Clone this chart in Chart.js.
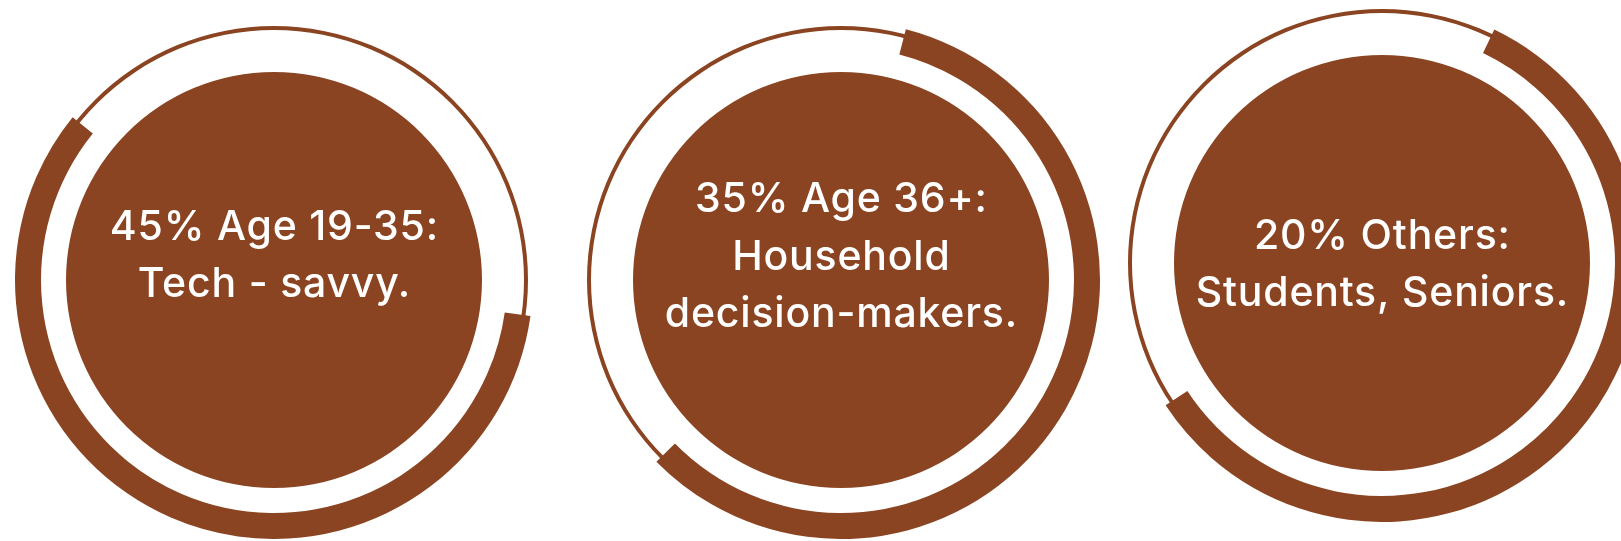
<!DOCTYPE html>
<html>
<head>
<meta charset="utf-8">
<script src="https://cdn.jsdelivr.net/npm/chart.js@4.4.1/dist/chart.umd.min.js"></script>
<style>
  html, body { margin: 0; padding: 0; background: #fff; }
  body { width: 1621px; height: 541px; overflow: hidden; position: relative; }
  .ring { position: absolute; width: 518px; height: 518px; }
  .ring canvas { position: absolute; left: 0; top: 0; }
</style>
</head>
<body>
<script>
// audience groups
const shares = [45, 35, 20];
const groupTitles = ['Age 19-35:', 'Age 36+:', 'Others:'];
const groupLines = [
  ['Tech - savvy.'],
  ['Household', 'decision-makers.'],
  ['Students, Seniors.']
];
// part of each outer ring drawn as the thick arc (same in all three)
const arcShare = [58.6, 58.6, 58.6];

const brown = '#8B4421';
const SIZE = 518;

// where each ring sits on the page
const layout = [
  { cx: 274, cy: 280, rotation: 98, textShift: -26 },
  { cx: 841, cy: 280, rotation: 14.5, textShift: -25 },
  { cx: 1382, cy: 263, rotation: 25.7, textShift: 0 }
];

const captionPlugin = {
  id: 'caption',
  afterDatasetsDraw(chart, args, opts) {
    const ctx = chart.ctx;
    const x = (chart.chartArea.left + chart.chartArea.right) / 2;
    const y = (chart.chartArea.top + chart.chartArea.bottom) / 2;
    const lines = opts.lines;
    const lh = 57.5;
    let base = y - (lines.length - 1) * lh / 2 + 14.5 + opts.shift;
    ctx.save();
    ctx.fillStyle = '#ffffff';
    ctx.font = '500 41px Inter';
    ctx.letterSpacing = '0.8px';
    ctx.textAlign = 'center';
    ctx.textBaseline = 'alphabetic';
    lines.forEach((t, i) => ctx.fillText(t, x + 0.4, base + i * lh));
    ctx.restore();
  }
};

function makeCanvas(wrap) {
  const c = document.createElement('canvas');
  c.width = SIZE;
  c.height = SIZE;
  c.style.width = SIZE + 'px';
  c.style.height = SIZE + 'px';
  wrap.appendChild(c);
  return c;
}

const baseOptions = {
  responsive: false,
  animation: false,
  events: [],
  plugins: { legend: { display: false }, tooltip: { enabled: false } },
  elements: { arc: { borderWidth: 0 } }
};

shares.forEach((share, i) => {
  const pos = layout[i];
  const wrap = document.createElement('div');
  wrap.className = 'ring';
  wrap.style.left = (pos.cx - SIZE / 2) + 'px';
  wrap.style.top = (pos.cy - SIZE / 2) + 'px';
  document.body.appendChild(wrap);

  // thin full ring + filled disc
  new Chart(makeCanvas(wrap), {
    type: 'doughnut',
    data: {
      datasets: [
        { data: [100], backgroundColor: 'rgba(0,0,0,0)', weight: 5 },
        { data: [100], backgroundColor: brown, weight: 4 },
        { data: [100], backgroundColor: 'rgba(0,0,0,0)', weight: 42 },
        { data: [100], backgroundColor: brown, weight: 208 }
      ]
    },
    options: Object.assign({}, baseOptions, { cutout: 0 })
  });

  // thick arc on top, with the caption
  const lines = [share + '% ' + groupTitles[i]].concat(groupLines[i]);
  new Chart(makeCanvas(wrap), {
    type: 'doughnut',
    data: {
      datasets: [{
        data: [arcShare[i], 100 - arcShare[i]],
        backgroundColor: [brown, 'rgba(0,0,0,0)']
      }]
    },
    options: Object.assign({}, baseOptions, {
      cutout: (233 / 259 * 100) + '%',
      rotation: pos.rotation,
      plugins: {
        legend: { display: false },
        tooltip: { enabled: false },
        caption: { lines: lines, shift: pos.textShift }
      }
    }),
    plugins: [captionPlugin]
  });
});
</script>
</body>
</html>
